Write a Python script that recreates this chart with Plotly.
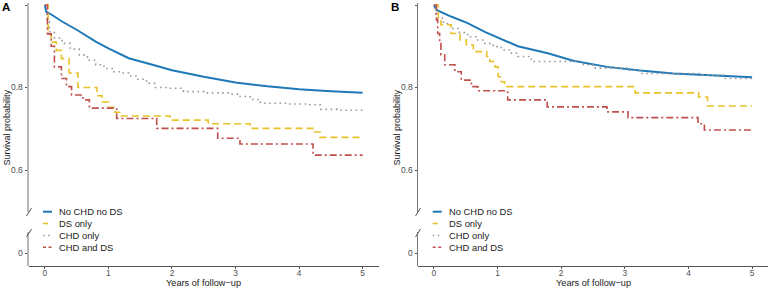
import plotly.graph_objects as go

W, H = 768, 288

# ---------------- data (years of follow-up, survival probability) ----------------
series_names = ["No CHD no DS", "DS only", "CHD only", "CHD and DS"]

# Panel A
a_none_t = [0, 0.02, 0.1, 0.27, 0.5, 0.8, 1.0, 1.32, 1.65, 2.0, 2.5, 3.0, 3.5, 4.0, 4.5, 5.0]
a_none_v = [1.0, 0.984, 0.977, 0.96, 0.94, 0.911, 0.895, 0.871, 0.857, 0.842, 0.826, 0.812, 0.803, 0.796, 0.791, 0.787]

a_ds_t = [0, 0.05, 0.1, 0.18, 0.26, 0.38, 0.52, 0.82, 0.9, 1.0, 1.1, 1.2, 1.97, 2.57, 3.23, 4.22, 4.33, 5.0]
a_ds_v = [1.0, 0.93, 0.91, 0.89, 0.87, 0.835, 0.80, 0.78, 0.765, 0.752, 0.74, 0.731, 0.721, 0.712, 0.701, 0.692, 0.679, 0.679]

a_chd_t = [0, 0.03, 0.07, 0.15, 0.27, 0.4, 0.54, 0.67, 0.8, 0.93, 1.06, 1.2, 1.32, 1.45, 1.6, 1.74, 1.92,
           2.18, 2.5, 2.9, 3.05, 3.23, 3.39, 3.8, 4.17, 4.33, 4.6, 5.0]
a_chd_v = [1.0, 0.96, 0.935, 0.92, 0.907, 0.893, 0.879, 0.866, 0.855, 0.846, 0.838, 0.835, 0.828, 0.82, 0.81, 0.80, 0.798,
           0.79, 0.787, 0.784, 0.778, 0.771, 0.762, 0.76, 0.758, 0.747, 0.745, 0.742]

a_both_t = [0, 0.04, 0.1, 0.15, 0.26, 0.34, 0.42, 0.6, 0.7, 1.13, 1.76, 2.72, 3.07, 4.22, 5.0]
a_both_v = [1.0, 0.93, 0.90, 0.85, 0.822, 0.802, 0.782, 0.77, 0.75, 0.725, 0.701, 0.677, 0.663, 0.636, 0.636]

# Panel B
b_none_t = [0, 0.04, 0.27, 0.53, 0.80, 1.06, 1.32, 1.79, 2.19, 2.72, 3.24, 3.76, 4.29, 5.0]
b_none_v = [1.0, 0.988, 0.972, 0.956, 0.935, 0.917, 0.90, 0.883, 0.865, 0.85, 0.841, 0.834, 0.830, 0.825]

b_ds_t = [0, 0.07, 0.11, 0.27, 0.41, 0.51, 0.62, 0.83, 0.88, 0.96, 1.01, 1.06, 1.11, 3.16, 4.16, 4.3, 5.0]
b_ds_v = [1.0, 0.964, 0.952, 0.931, 0.915, 0.903, 0.887, 0.875, 0.863, 0.85, 0.826, 0.814, 0.802, 0.787, 0.777, 0.755, 0.755]

b_chd_t = [0, 0.03, 0.15, 0.27, 0.4, 0.53, 0.67, 0.80, 0.93, 1.06, 1.2, 1.32, 1.53, 2.35, 2.5, 3.03, 3.24, 4.18, 4.55, 5.0]
b_chd_v = [1.0, 0.968, 0.955, 0.943, 0.933, 0.923, 0.915, 0.907, 0.899, 0.891, 0.883, 0.875, 0.863, 0.855, 0.847, 0.842, 0.834, 0.830, 0.822, 0.817]

b_both_t = [0, 0.04, 0.06, 0.09, 0.11, 0.17, 0.33, 0.43, 0.59, 0.69, 1.16, 1.78, 2.72, 3.05, 4.15, 4.25, 5.0]
b_both_v = [1.0, 0.964, 0.931, 0.907, 0.879, 0.855, 0.838, 0.818, 0.802, 0.792, 0.77, 0.753, 0.741, 0.727, 0.712, 0.697, 0.697]

x_ticks = [0, 1, 2, 3, 4, 5]
x_ticklabels = ["0", "1", "2", "3", "4", "5"]
y_ticks = [0.6, 0.8, 1.0]
y_ticklabels = ["0.6", "0.8", "1"]
y_low_ticks = [0]
y_low_ticklabels = ["0"]
panel_labels = ["A", "B"]
x_title = "Years of follow\u2212up"
y_title = "Survival probability"

# ---------------- styles ----------------
FONT = "Liberation Sans, Arial, Helvetica, sans-serif"
styles = {
    "No CHD no DS": dict(color="#1f78b8", width=2.0, dash="solid", shape="linear"),
    "DS only": dict(color="#e8c22a", width=1.6, dash="7px,4px", shape="hv"),
    "CHD only": dict(color="#9a9a9a", width=1.6, dash="1.6px,3.6px", shape="hv"),
    "CHD and DS": dict(color="#c0504d", width=1.6, dash="7px,3px,2px,3px", shape="hv"),
}
legend_dash = {"No CHD no DS": "solid", "DS only": "5px,4px",
               "CHD only": "1.6px,3.4px", "CHD and DS": "3px,2.5px"}

panel_data = [
    {"No CHD no DS": (a_none_t, a_none_v), "DS only": (a_ds_t, a_ds_v),
     "CHD only": (a_chd_t, a_chd_v), "CHD and DS": (a_both_t, a_both_v)},
    {"No CHD no DS": (b_none_t, b_none_v), "DS only": (b_ds_t, b_ds_v),
     "CHD only": (b_chd_t, b_chd_v), "CHD and DS": (b_both_t, b_both_v)},
]

def fx(p):
    return p / W

def fy(p):
    return 1 - p / H

# pixel geometry
panel_x0 = [29, 418]
panel_x1 = [378.5, 768]
top_px, brk_top_px, brk_bot_px, bot_px = 3, 212, 232, 265.6
px_per_unit = 412.5
one_px = 5      # pixel row of y = 1
zero_px = 253   # pixel row of y = 0

up_range = [1 - (brk_top_px - one_px) / px_per_unit, 1 + (one_px - top_px) / px_per_unit]
low_range = [-(bot_px - zero_px) / px_per_unit, (zero_px - brk_bot_px) / px_per_unit]

fig = go.Figure()
draw_order = ["No CHD no DS", "CHD only", "DS only", "CHD and DS"]

for i in range(2):
    xa = "x" if i == 0 else "x2"
    ya = "y" if i == 0 else "y3"
    yl = "y2" if i == 0 else "y4"
    for name in draw_order:
        t, v = panel_data[i][name]
        st = styles[name]
        fig.add_trace(go.Scatter(
            x=t, y=v, mode="lines", name=name, showlegend=False,
            line=dict(color=st["color"], width=st["width"], dash=st["dash"], shape=st["shape"]),
            xaxis=xa, yaxis=ya, hoverinfo="skip"))
    # empty trace so that the lower (broken) y-axis segment exists
    fig.add_trace(go.Scatter(x=[None], y=[None], mode="lines", showlegend=False,
                             xaxis=xa, yaxis=yl, hoverinfo="skip"))

common_tick = dict(ticks="outside", showgrid=False, zeroline=False, showline=True)

ycol = ["#b8b8b8", "#7a7a7a"]
ywid = [2, 1]

for i in range(2):
    sx = "" if i == 0 else "2"
    yu = "" if i == 0 else "3"
    yl = "2" if i == 0 else "4"
    fig.layout["xaxis" + sx] = dict(
        domain=[fx(panel_x0[i]), fx(panel_x1[i])], range=[-0.25, 5.25],
        anchor="free", position=fy(bot_px), tickvals=x_ticks, ticktext=x_ticklabels,
        ticklen=2, ticklabelstandoff=-3,
        tickfont=dict(family=FONT, size=8.3, color="#4d4d4d"),
        linecolor="#555555", linewidth=1, tickcolor="#555555", **common_tick)
    for key, dom, rng, tv, tt in [
        ("yaxis" + yu, [fy(brk_top_px), fy(top_px)], up_range, y_ticks, y_ticklabels),
        ("yaxis" + yl, [fy(bot_px), fy(brk_bot_px)], low_range, y_low_ticks, y_low_ticklabels),
    ]:
        fig.layout[key] = dict(
            domain=dom, range=rng, anchor="x" + sx, tickvals=tv, ticktext=tt,
            ticklen=2.5, tickfont=dict(family=FONT, size=8.5, color="#4d4d4d"),
            linecolor=ycol[i], linewidth=ywid[i], tickcolor="#555555", **common_tick)

shapes = []
annotations = []

# axis break marks
for i in range(2):
    x0 = panel_x0[i]
    for (yb, yt) in [(216, 208), (237, 229)]:
        shapes.append(dict(type="line", xref="paper", yref="paper",
                           x0=fx(x0 - 2.5), y0=fy(yb), x1=fx(x0 + 2.5), y1=fy(yt),
                           line=dict(color="#555555", width=1)))

# legends (inside each panel)
leg_rows = [211.7, 223.5, 235.5, 247.3]
leg_sym_x = [(43, 52), (432.7, 441.7)]
leg_txt_x = [56.5, 446.5]
for i in range(2):
    for k, name in enumerate(series_names):
        st = styles[name]
        shapes.append(dict(type="line", xref="paper", yref="paper",
                           x0=fx(leg_sym_x[i][0]), x1=fx(leg_sym_x[i][1]),
                           y0=fy(leg_rows[k]), y1=fy(leg_rows[k]),
                           line=dict(color=st["color"], width=st["width"], dash=legend_dash[name])))
        annotations.append(dict(xref="paper", yref="paper", x=fx(leg_txt_x[i]), y=fy(leg_rows[k]),
                                xanchor="left", yanchor="middle", showarrow=False, text=name,
                                font=dict(family=FONT, size=9.4, color="#1a1a1a")))

# titles and panel labels
x_title_cx = [(panel_x0[0] + panel_x1[0]) / 2, (panel_x0[1] + panel_x1[1]) / 2]
y_title_x = [6.5, 396.5]
panel_label_x = [0, 389]
for i in range(2):
    annotations.append(dict(xref="paper", yref="paper", x=fx(x_title_cx[i]), y=fy(282.5),
                            xanchor="center", yanchor="middle", showarrow=False, text=x_title,
                            font=dict(family=FONT, size=9.2, color="#1a1a1a")))
    annotations.append(dict(xref="paper", yref="paper", x=fx(y_title_x[i]), y=fy(128),
                            xanchor="center", yanchor="middle", showarrow=False, text=y_title,
                            textangle=-90, font=dict(family=FONT, size=9.0, color="#1a1a1a")))
    annotations.append(dict(xref="paper", yref="paper", x=fx(panel_label_x[i]), y=fy(7.5),
                            xanchor="left", yanchor="middle", showarrow=False,
                            text="<b>" + panel_labels[i] + "</b>",
                            font=dict(family=FONT, size=11.5, color="#000000")))

fig.update_layout(
    width=W, height=H, margin=dict(l=0, r=0, t=0, b=0, pad=0),
    paper_bgcolor="white", plot_bgcolor="white",
    showlegend=False, shapes=shapes, annotations=annotations,
    font=dict(family=FONT),
)

fig.write_html("out.html", config={"displayModeBar": False},
               post_script="document.body.style.margin='0';document.body.style.overflow='hidden';")
